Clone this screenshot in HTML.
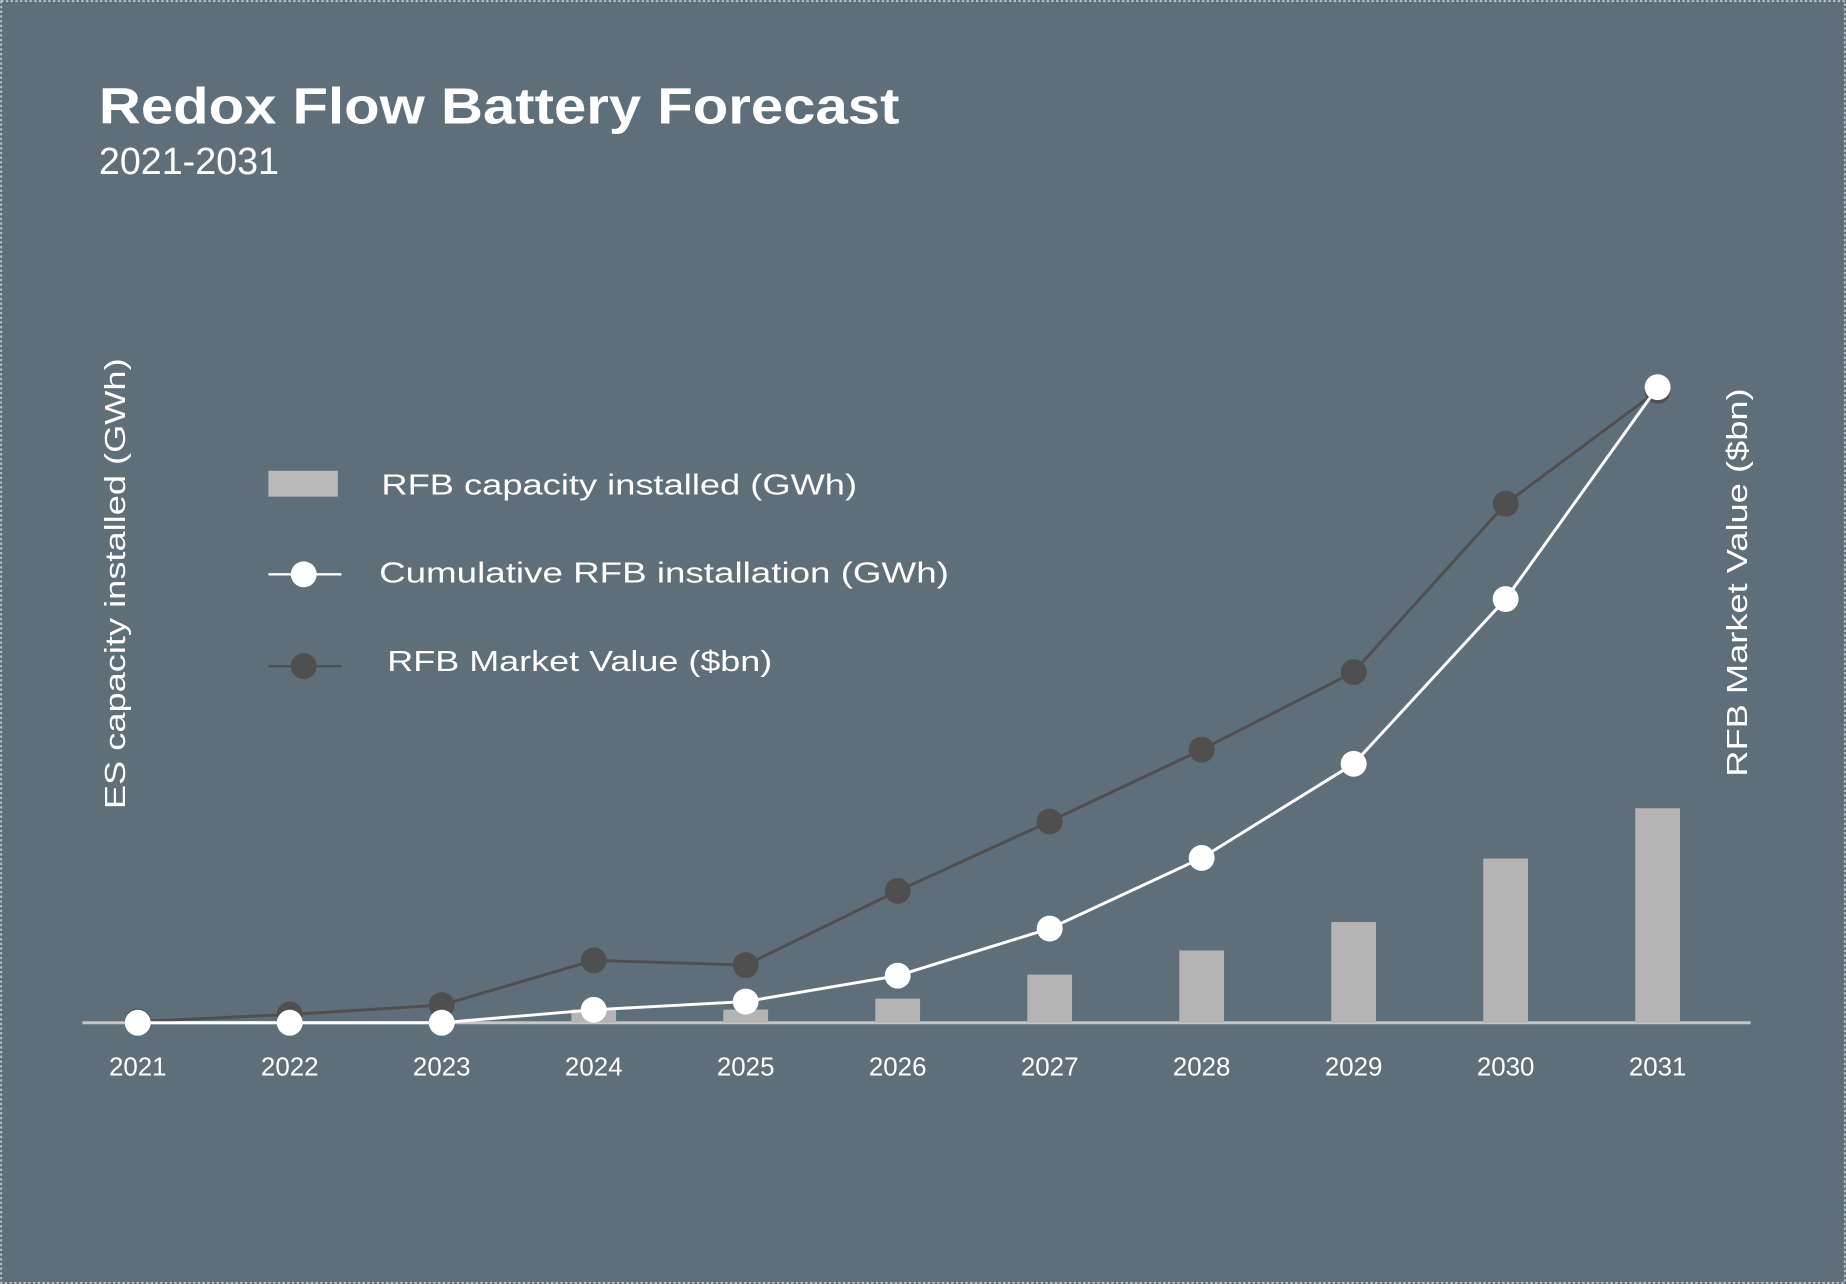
<!DOCTYPE html>
<html><head><meta charset="utf-8"><style>
html,body{margin:0;padding:0;background:#5e6f7a;}
svg{display:block;}
text{font-family:"Liberation Sans",sans-serif;fill:#fff;}
</style></head><body>
<svg id="chart" width="1846" height="1284" viewBox="0 0 1568 1091" preserveAspectRatio="none" xmlns="http://www.w3.org/2000/svg">
<rect x="0" y="0" width="1568" height="1091" fill="#5e6f7a"/>
<rect x="1" y="1" width="1566" height="1089" fill="none" stroke="#c8c8c8" stroke-width="1.5" stroke-dasharray="2,2"/>
<text x="84" y="105" font-size="43" font-weight="bold" textLength="680" lengthAdjust="spacingAndGlyphs">Redox Flow Battery Forecast</text>
<text x="84" y="148" font-size="32" textLength="153" lengthAdjust="spacingAndGlyphs">2021-2031</text>
<text transform="translate(106,496) rotate(-90)" text-anchor="middle" font-size="24" textLength="383" lengthAdjust="spacingAndGlyphs">ES capacity installed (GWh)</text>
<text transform="translate(1484,495) rotate(-90)" text-anchor="middle" font-size="24" textLength="330" lengthAdjust="spacingAndGlyphs">RFB Market Value ($bn)</text>
<g id="legend">
<rect x="228" y="400" width="59" height="22" fill="#b9b9b9"/>
<text x="324" y="420" font-size="24" textLength="404" lengthAdjust="spacingAndGlyphs">RFB capacity installed (GWh)</text>
<line x1="228" y1="488" x2="290" y2="488" stroke="#fff" stroke-width="2"/>
<circle cx="258" cy="488" r="11" fill="#fff"/>
<text x="322" y="495" font-size="24" textLength="484" lengthAdjust="spacingAndGlyphs">Cumulative RFB installation (GWh)</text>
<line x1="228" y1="566" x2="290" y2="566" stroke="#4f4f4f" stroke-width="2"/>
<circle cx="258" cy="566" r="11" fill="#4f4f4f"/>
<text x="329" y="570" font-size="24" textLength="327" lengthAdjust="spacingAndGlyphs">RFB Market Value ($bn)</text>
</g>
<g id="plot"></g>
</svg>
<script>
const years = ["2021","2022","2023","2024","2025","2026","2027","2028","2029","2030","2031"];
const capacity = [0,0,0,0.6,0.6,1.1,2.2,3.3,4.6,7.5,9.8];
const cumulative = [0,0,0,0.55,0.9,2.0,4.0,7.0,11.0,18.0,27.0];
const marketValue = [0.05,0.35,0.75,2.65,2.45,5.6,8.55,11.6,14.9,22.05,26.85];

const NS="http://www.w3.org/2000/svg";
const g=document.getElementById('plot');
const baseY=869;
function xPos(i){return 117+i*(1408-117)/10;}
function yBar(v){return baseY-v*18.6;}
function yCum(v){return baseY-v*20;}
function yMkt(v){return baseY-v*20;}
function mk(tag,attrs){const e=document.createElementNS(NS,tag);for(const k in attrs)e.setAttribute(k,attrs[k]);g.appendChild(e);return e;}

const axis=mk('line',{x1:70,y1:baseY,x2:1487,y2:baseY,stroke:'#c4c4c4','stroke-width':2.5});



capacity.forEach((v,i)=>{
  if(v<=0)return;
  const b=mk('rect',{x:xPos(i)-19,y:yBar(v),width:38,height:baseY-yBar(v),fill:'#b4b4b4'});
  
  
});

years.forEach((y,i)=>{
  const t=mk('text',{x:xPos(i),y:914,'text-anchor':'middle','font-size':22});
  t.textContent=y;
  
  
});

function series(vals,fy,color,name){
  const pl=mk('polyline',{points:vals.map((v,i)=>xPos(i)+','+fy(v)).join(' '),fill:'none',stroke:color,'stroke-width':2.5});
  
  
  vals.forEach((v,i)=>{
    const c=mk('circle',{cx:xPos(i),cy:fy(v),r:11,fill:color});
    
    
  });
}
series(marketValue,yMkt,'#4f4f4f','market-value');
series(cumulative,yCum,'#ffffff','cumulative');
</script>
</body></html>
